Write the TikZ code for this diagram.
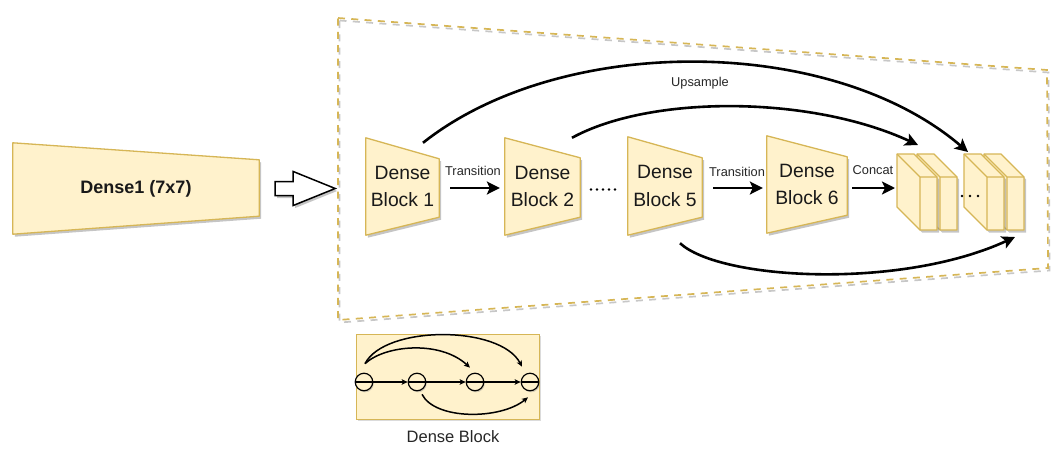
\documentclass[tikz,border=0pt]{standalone}
\usepackage{fontspec}
\setmainfont{Liberation Sans}
\usetikzlibrary{arrows.meta,calc,shadows,backgrounds}
\definecolor{yfill}{HTML}{FFF2CC}
\definecolor{ystroke}{HTML}{D6B656}
\newcommand\mycuboid[2]{%
  \coordinate (#2) at (#1,177);
  \draw[yshape] (#1-23,154) -- (#1-6,154) -- (#1+17,177) -- (#1+17,230) -- (#1,230) -- (#1-23,207) -- cycle;
  \draw[yedge] (#1-23,154) -- (#1,177) -- (#1+17,177) (#1,177) -- (#1,230);
}
\begin{document}
\begin{tikzpicture}[x=1pt,y=-1pt,
  shapeshadow/.style={drop shadow={shadow xshift=2pt,shadow yshift=-2.5pt,fill=black!45,opacity=.5}},
  yshape/.style={fill=yfill,draw=ystroke,line width=1.3pt,line join=round,shapeshadow},
  yedge/.style={draw=ystroke,line width=1.3pt,line join=round},
  blockbox/.style={align=center,inner sep=0pt,text=black!90},
  blocktext/.style={blockbox,font=\fontsize{19.3}{27.5}\selectfont},
  bigarrow/.style={line width=2.6pt,-{Stealth[length=13pt,width=13pt,inset=3pt]}},
  smallarrow/.style={line width=1.2pt,-{Stealth[length=6pt,width=5.5pt,inset=1.5pt]}},
  lbl/.style={font=\fontsize{12.8}{14}\selectfont,text=black!85,inner sep=0pt},
  framedash/.style={line width=1.7pt,dash pattern=on 7pt off 6.3pt},
  dotmark/.style={fill=black,draw=none},
  circ/.style={circle,draw=black,line width=1.2pt,fill=yfill,minimum size=17.5pt,inner sep=0pt,
    drop shadow={shadow xshift=1pt,shadow yshift=-1.5pt,fill=black!45,opacity=.4},
    path picture={\draw[line width=1.2pt] (path picture bounding box.west) -- (path picture bounding box.east);}}
]
\useasboundingbox (0,0) rectangle (1059,450);

% dashed frame
\coordinate (f1) at (338,18);
\coordinate (f2) at (1047,70);
\coordinate (f3) at (1048,268);
\coordinate (f4) at (338,320);
\draw[framedash,black!22,transform canvas={xshift=1.5pt,yshift=-2.5pt}] (f1) -- (f2) -- (f3) -- (f4) -- cycle;
\draw[framedash,ystroke] (f1) -- (f2) -- (f3) -- (f4) -- cycle;

% Dense1
\node[blockbox,minimum width=246pt,minimum height=91pt,font=\bfseries\fontsize{18}{20}\selectfont] (d1) at (136,188.5) {Dense1 (7x7)};
% blocks
\node[blocktext,minimum width=73pt,minimum height=97pt] (b1) at (402.5,186.5) {Dense\\Block 1};
\node[blocktext,minimum width=75pt,minimum height=97pt] (b2) at (542.5,186.5) {Dense\\Block 2};
\node[blocktext,minimum width=74pt,minimum height=98pt] (b5) at (665,186) {Dense\\Block 5};
\node[blocktext,minimum width=80pt,minimum height=97pt] (b6) at (807,184.5) {Dense\\Block 6};

\begin{scope}[on background layer]
\draw[yshape] (d1.north west) -- ($(d1.north east)+(0,17)$) -- ($(d1.south east)+(0,-18)$) -- (d1.south west) -- cycle;
\foreach \b/\ti/\bi in {b1/21/18, b2/20/18, b5/21/18, b6/21/18}{
  \draw[yshape] (\b.north west) -- ($(\b.north east)+(0,\ti)$) -- ($(\b.south east)+(0,-\bi)$) -- (\b.south west) -- cycle;
}
\end{scope}

% hollow arrow
\draw[line width=1.5pt,fill=white,line join=miter,shapeshadow]
  ($(d1.east)+(16,-7)$) -- ++(18,0) -- ++(0,-10) -- ++(42,17) -- ++(-42,17) -- ++(0,-10) -- ++(-18,0) -- cycle;

% cuboids (drawn back to front)
\mycuboid{1007}{c4}
\mycuboid{987}{c3}
\mycuboid{940}{c2}
\mycuboid{920}{c1}

% dots
\foreach \x in {591,597,603,609,615} \fill[dotmark] (\x,189.5) circle (1.4pt);
\foreach \x in {962,970,978} \fill[dotmark] (\x,196) circle (1.4pt);

% transitions
\draw[bigarrow] ($(b1.east)+(11,1.5)$) -- ($(b2.west)+(-5,1.5)$);
\node[lbl] (t1) at (473,171) {Transition};
\draw[bigarrow] ($(b5.east)+(11,2)$) -- ($(b6.west)+(-4,3.5)$);
\node[lbl] (t2) at (737,172) {Transition};
\draw[bigarrow] ($(b6.east)+(5,3.5)$) -- ($(c1)+(-25,11)$);
\node[lbl] (t3) at (873,170) {Concat};

% skip connections
\draw[bigarrow] ($(b1.north)+(20.5,5)$) .. controls (560,34) and (830,34) .. ($(c3)+(-19,-25)$);
\node[lbl] (up) at (700,83) {Upsample};
\draw[bigarrow] ($(b2.north)+(29.5,0)$) .. controls (650,95) and (810,95) .. ($(c1)+(-2,-32)$);
\draw[bigarrow] ($(b5.south)+(15,8)$) .. controls (720,280) and (900,290) .. ($(c4)+(8,60)$);

% small dense block legend
\node[draw=ystroke,fill=yfill,line width=1pt,minimum width=183pt,minimum height=85pt,inner sep=0pt,
  drop shadow={shadow xshift=1.5pt,shadow yshift=-2pt,fill=black!40,opacity=.35}] (db) at (447.5,376.5) {};
\node[circ] (n1) at (364,382) {};
\node[circ] (n2) at (417,382) {};
\node[circ] (n3) at (475,382) {};
\node[circ] (n4) at (530,382) {};
\draw[smallarrow] (n1) -- (n2);
\draw[smallarrow] (n2) -- (n3);
\draw[smallarrow] (n3) -- (n4);
\draw[smallarrow,line width=1.5pt] ($(n1.north)+(1,-9)$) .. controls (385,325) and (500,325) .. ($(n4.north)+(-8,-6)$);
\draw[smallarrow,line width=1.5pt] ($(n1.north)+(1,-9)$) .. controls (385,345) and (440,340) .. ($(n3.north)+(-5,-5)$);
\draw[smallarrow,line width=1.5pt] ($(n2.south)+(5,3)$) .. controls (435,420) and (500,420) .. ($(n4.south)+(-2,6)$);
\node[lbl,font=\fontsize{16.5}{18}\selectfont] (dbl) at (453,437) {Dense Block};
\end{tikzpicture}
\end{document}
